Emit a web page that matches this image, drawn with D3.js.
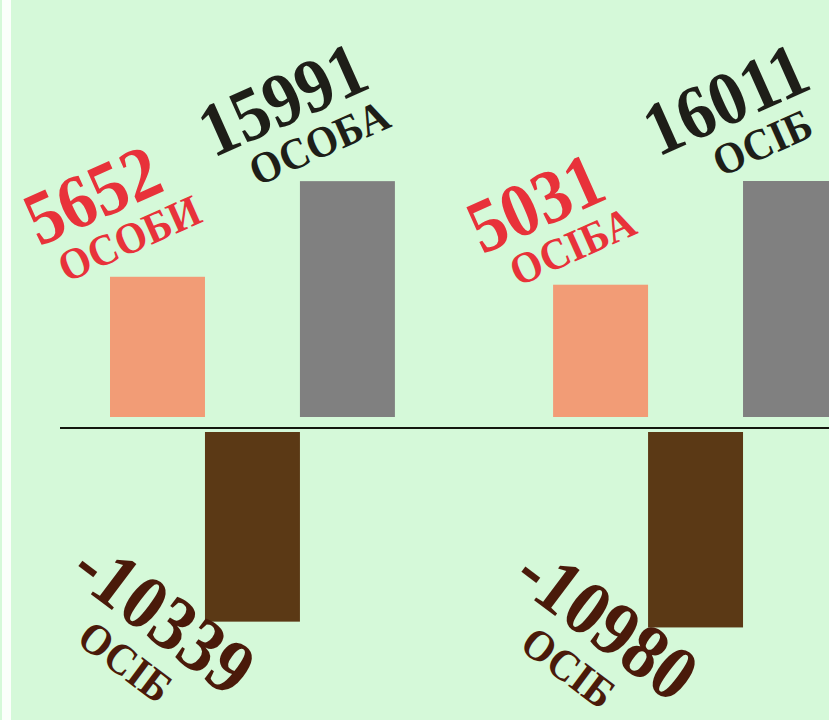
<!DOCTYPE html>
<html>
<head>
<meta charset="utf-8">
<script src="https://cdn.jsdelivr.net/npm/d3@7"></script>
<style>
html,body{margin:0;padding:0;background:#d5f9d9;overflow:hidden;}
svg{display:block;}
text{font-family:"Liberation Serif","Times New Roman",serif;font-weight:bold;}
</style>
</head>
<body>
<svg id="chart" width="829" height="720"></svg>
<script>
// ---- data ----
const periods = ["period1", "period2"];
const series = ["births", "change", "deaths"];
const births = [5652, 5031];
const deaths = [15991, 16011];
const change = [-10339, -10980];
const birthUnits = ["ОСОБИ", "ОСІБА"];
const deathUnits = ["ОСОБА", "ОСІБ"];
const changeUnits = ["ОСІБ", "ОСІБ"];

const colors = {births: "#f29c76", change: "#5b3915", deaths: "#808080"};
const labelColors = {births: "#e8323a", change: "#4a1a0a", deaths: "#1e1e18"};

const W = 829, H = 720;
const svg = d3.select("#chart");

svg.append("rect").attr("width", W).attr("height", H).attr("fill", "#d5f9d9");
svg.append("rect").attr("x", 2).attr("y", 0).attr("width", 9).attr("height", H).attr("fill", "#fbfffb");

const x0 = d3.scaleBand().domain(periods).range([110, 838]).paddingInner(0.357).paddingOuter(0);
const x1 = d3.scaleBand().domain(series).range([0, x0.bandwidth()]).padding(0);

const maxV = d3.max([...births, ...deaths, ...change.map(Math.abs)]);
const len = d3.scaleSqrt().domain([0, maxV]).range([0, 236]);

const axisY = 428, posBase = 417, negBase = 432;

const rows = [];
periods.forEach((p, i) => {
  rows.push({p, s: "births", v: births[i], unit: birthUnits[i]});
  rows.push({p, s: "change", v: change[i], unit: changeUnits[i]});
  rows.push({p, s: "deaths", v: deaths[i], unit: deathUnits[i]});
});

// baseline
svg.append("line")
  .attr("x1", x0.range()[0] - 50).attr("x2", W)
  .attr("y1", axisY).attr("y2", axisY)
  .attr("stroke", "#14180f").attr("stroke-width", 2.2);

svg.append("g").selectAll("rect.bar").data(rows).join("rect")
  .attr("class", "bar")
  .attr("x", d => x0(d.p) + x1(d.s))
  .attr("width", x1.bandwidth())
  .attr("y", d => d.v >= 0 ? posBase - len(d.v) : negBase)
  .attr("height", d => len(Math.abs(d.v)))
  .attr("fill", d => colors[d.s]);

// labels
const lab = svg.selectAll("g.lab").data(rows).join("g")
  .attr("class", "lab")
  .attr("fill", d => labelColors[d.s])
  .attr("transform", d => {
    const cx = x0(d.p) + x1(d.s) + x1.bandwidth() / 2;
    if (d.v >= 0) {
      return `translate(${cx - 24},${posBase - len(d.v) - 24}) rotate(-24)`;
    } else {
      return `translate(${cx - 104},${negBase + len(-d.v) + 16}) rotate(37)`;
    }
  });

const cond = 0.92;
lab.append("g")
  .attr("transform", d => d.v >= 0 ? "translate(-14,-44)" : "translate(0,0)")
  .append("text")
  .attr("text-anchor", "middle")
  .attr("transform", `scale(${cond},1)`)
  .attr("font-size", d => d.v >= 0 ? 76 : 78)
  .text(d => d.v);

lab.append("g")
  .attr("transform", d => d.v >= 0 ? "translate(2,0)" : "translate(-4,48)")
  .append("text")
  .attr("text-anchor", "middle")
  .attr("transform", `scale(${cond},1)`)
  .attr("font-size", 44)
  .text(d => d.unit);
</script>
</body>
</html>
